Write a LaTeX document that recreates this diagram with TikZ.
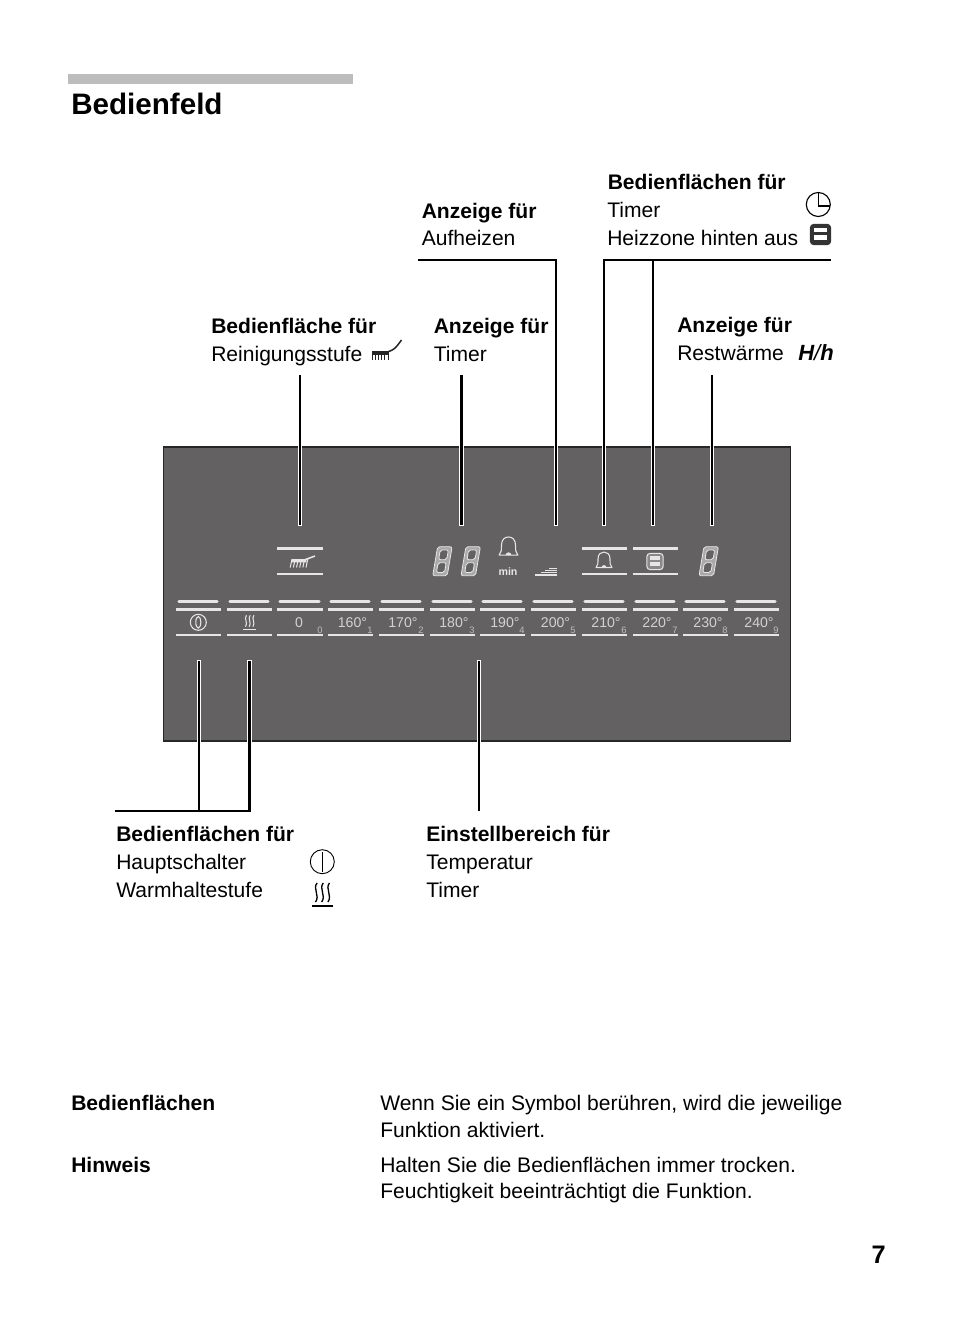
\documentclass[tikz,border=0pt]{standalone}
\usepackage{fontspec}
\setmainfont{Liberation Sans}
\definecolor{panelgray}{HTML}{636161}
\definecolor{markgray}{HTML}{E6E6E6}
\definecolor{barsilver}{HTML}{BDBDBD}
\tikzset{
  halo/.style       = {white,line width=3.4pt,shorten <=-0.75pt,shorten >=-0.75pt},
  headtext/.style   = {anchor=base west,inner sep=0pt,font=\fontsize{15.8}{15.8}\selectfont\bfseries},
  bodytext/.style   = {anchor=base west,inner sep=0pt,font=\fontsize{15.8}{15.8}\selectfont},
  keylabel/.style   = {inner sep=0pt,font=\fontsize{10.6}{10.6}\selectfont,markgray!85!panelgray},
  keyindex/.style   = {inner sep=0pt,font=\fontsize{7}{7}\selectfont,markgray!70!panelgray},
  keyrule/.style    = {markgray,line width=1.6pt},
  keybar/.style     = {markgray,line width=2.4pt,line cap=round}
}
\newcommand{\keyrules}[2]{%
  \draw[keybar] (#1+3,601.5) -- (#2-4,601.5);
  \draw[keyrule] (#1,609.5) -- (#2,609.5);
  \draw[keyrule] (#1,635) -- (#2,635);
}
\newcommand{\segdigit}[2]{%
  \begin{scope}[shift={(#1,#2)},xslant=0.17]
    \filldraw[even odd rule,draw=markgray,fill=markgray!55!panelgray,line width=0.6pt,line join=round,rounded corners=1.5pt]
      (0,0) rectangle (14.5,-29)
      (3.2,-3.2) rectangle (11.3,-13)
      (3.2,-16) rectangle (11.3,-25.8);
  \end{scope}
}
\newcommand{\bellsym}[3]{%
  \begin{scope}[shift={(#1,#2)},scale=#3,markgray,line join=round]
    \draw[line width=0.8pt] (-8,6.5) .. controls (-6,4.5) and (-6,2) .. (-6,-2)
      .. controls (-6,-7) and (-3,-9) .. (0,-9)
      .. controls (3,-9) and (6,-7) .. (6,-2)
      .. controls (6,2) and (6,4.5) .. (8,6.5) -- cycle;
    \fill (-2.4,6.5) arc[start angle=180,end angle=360,radius=2.4];
  \end{scope}
}
\newcommand{\ovensym}[6]{%
  \begin{scope}[shift={(#1,#2)},scale=#3]
    \filldraw[draw=#4,fill=#5,line width=0.8pt,rounded corners=2.5pt] (-9.6,-9.6) rectangle (9.6,9.6);
    \fill[#6] (-6,-6) rectangle (6,-2.2);
    \fill[#6] (-6,0.6) rectangle (6,5.6);
  \end{scope}
}
\newcommand{\heatsym}[5]{%
  \begin{scope}[shift={(#1,#2)},scale=#3]
    \foreach \dx in {-6.2,0,6.2}
      \draw[#4,line width=#5] (\dx+0.8,-9.5) .. controls (\dx-4,-4) and (\dx+4,3) .. (\dx-0.8,9.5);
    \draw[#4,line width=#5] (-10.5,13.5) -- (10.5,13.5);
  \end{scope}
}
\newcommand{\brushsym}[8]{%
  \begin{scope}[shift={(#1,#2)},#8]
    \fill (0,0) -- (#3,0) -- (#3-0.4*#7,0.4*#4) -- (0.2*#7,0.4*#4) -- cycle;
    \foreach \u in {0,0.2,0.4,0.6,0.8,1}
      \draw[line width=0.75pt] (\u*#3-\u*#7,0) -- (\u*#3-\u*#7+#7,#4);
    \draw[line width=1.15pt] (#3-0.5,0.5) .. controls (#3+0.5*#5,0.2*#6) .. (#3+#5,#6);
  \end{scope}
}
\begin{document}
\begin{tikzpicture}[x=0.75pt,y=-0.75pt]
  \useasboundingbox (0,0) rectangle (954,1326);
  \fill[barsilver] (68,74) rectangle (353,84);
  \node[anchor=base west,inner sep=0pt,font=\fontsize{22.2}{22.2}\selectfont\bfseries] (title) at (71,114.5) {Bedienfeld};

  \node[headtext] (heatA) at (421.5,219) {Anzeige für};
  \node[bodytext] (heatB) at (421.5,246) {Aufheizen};
  \node[headtext] (keyA) at (607.5,190) {Bedienflächen für};
  \node[bodytext] (keyB) at (607,218) {Timer};
  \node[bodytext] (keyC) at (607,246) {Heizzone hinten aus};
  \draw[black,line width=0.85pt] (818.3,204.5) circle (12);
  \draw[black,line width=0.85pt] (818.3,193) -- (818.3,206) -- (830,206);
  \ovensym{820.5}{234.5}{1.05}{black!80}{black!80}{white}

  \node[headtext] (cleanA) at (211,334) {Bedienfläche für};
  \node[bodytext] (cleanB) at (211,362) {Reinigungsstufe};
  \brushsym{372}{351.5}{16}{8.5}{13.5}{-11.5}{0}{black!85}
  \node[headtext] (timerA) at (433.5,334) {Anzeige für};
  \node[bodytext] (timerB) at (433.5,362) {Timer};
  \node[headtext] (restA) at (677,333) {Anzeige für};
  \node[bodytext] (restB) at (677,361) {Restwärme};
  \node[anchor=base west,inner sep=0pt,font=\fontsize{16.5}{16.5}\selectfont\itshape] (restC) at (798,361) {\textbf{H}/\textbf{h}};

  \draw[panelgray!40!black,fill=panelgray,line width=0.8pt] (163.5,447) rectangle (790.5,741);

  \foreach \name/\px/\ytop/\lw in {clean/300/375/1.5pt,timer/461.5/375/2.2pt,heat/556/260/1.5pt,bell/604/260/1.5pt,oven/653/260/1.5pt,rest/712/375/1.5pt}{
    \coordinate (\name Top) at (\px,\ytop);
    \coordinate (\name Mid) at (\px,446.5);
    \coordinate (\name End) at (\px,525);
    \draw[halo] (\name Mid) -- (\name End);
    \draw[black,line width=\lw] (\name Top) -- (\name End);
  }
  \foreach \name/\px/\lw in {main/199/1.5pt,warm/249.3/2.2pt,range/479/1.5pt}{
    \coordinate (\name Top) at (\px,661);
    \coordinate (\name Mid) at (\px,741.5);
    \coordinate (\name End) at (\px,811);
    \draw[halo] (\name Top) -- (\name Mid);
    \draw[black,line width=\lw] (\name Top) -- (\name End);
  }
  \coordinate (heatLeft) at (418,260);
  \coordinate (heatCorner) at (557,260);
  \coordinate (keyLeft) at (603,260);
  \coordinate (keyRight) at (831,260);
  \coordinate (mainLeft) at (114.5,810.5);
  \coordinate (warmCorner) at (250.7,810.5);
  \draw[black,line width=1.5pt] (heatLeft) -- (heatCorner);
  \draw[black,line width=1.5pt] (keyLeft) -- (keyRight);
  \draw[black,line width=1.5pt] (mainLeft) -- (warmCorner);

  \draw[keyrule] (277,548.5) -- (323,548.5);
  \draw[keyrule] (277,574) -- (323,574);
  \brushsym{292}{559}{14}{8.5}{9}{-3}{-1.8}{markgray}
  \segdigit{432.7}{575.7}
  \segdigit{461}{575.7}
  \bellsym{508.5}{547.5}{1.17}
  \node[inner sep=0pt,font=\fontsize{8}{8}\selectfont\bfseries,markgray] (minText) at (508,571.5) {min};
  \foreach \dy/\xa in {0/535,-2.3/541,-4.6/545,-6.9/549}
    \draw[markgray,line width=0.8pt] (\xa,575+\dy) -- (557,575+\dy);
  \draw[keyrule] (582,548.5) -- (627,548.5);
  \draw[keyrule] (582,574) -- (627,574);
  \bellsym{604}{561}{1}
  \draw[keyrule] (633,548.5) -- (678,548.5);
  \draw[keyrule] (633,574) -- (678,574);
  \ovensym{655}{561.5}{0.85}{markgray}{panelgray!75!white}{markgray}
  \segdigit{699}{575.7}

  \foreach \xa/\xb/\cx/\lbl/\idx in {
      277/323/299/0/0,328/373/352.5/160°/1,379/424/403/170°/2,430/475/454/180°/3,
      480/525/505/190°/4,531/576/555.5/200°/5,582/627/606/210°/6,633/678/657/220°/7,
      683/728/708/230°/8,734/779/759/240°/9}{
    \keyrules{\xa}{\xb}
    \node[keylabel] (key\idx) at (\cx,622.5) {\lbl};
    \node[keyindex] (idx\idx) at (\xb-3,630.5) {\idx};
  }
  \keyrules{176}{221}
  \keyrules{227}{272}
  \draw[markgray,line width=0.8pt] (198.3,622.3) circle (8);
  \draw[markgray,line width=0.8pt] (198.3,622.3) ellipse (2.5 and 5.8);
  \heatsym{249.7}{621}{0.6}{markgray}{0.8pt}

  \node[headtext] (mainA) at (116,841) {Bedienflächen für};
  \node[bodytext] (mainB) at (116,869) {Hauptschalter};
  \node[bodytext] (mainC) at (116,897) {Warmhaltestufe};
  \draw[black,line width=0.7pt] (322.3,861.7) circle (12);
  \draw[black,line width=0.9pt] (322.3,852) -- (322.3,871.5);
  \heatsym{322.5}{892.5}{1}{black}{1pt}
  \node[headtext] (rangeA) at (426,841) {Einstellbereich für};
  \node[bodytext] (rangeB) at (426,869) {Temperatur};
  \node[bodytext] (rangeC) at (426,897) {Timer};

  \node[headtext] (noteA) at (71,1110) {Bedienflächen};
  \node[bodytext] (noteB) at (380,1110) {Wenn Sie ein Symbol berühren, wird die jeweilige};
  \node[bodytext] (noteC) at (380,1137) {Funktion aktiviert.};
  \node[headtext] (hintA) at (71,1172) {Hinweis};
  \node[bodytext] (hintB) at (380,1172) {Halten Sie die Bedienflächen immer trocken.};
  \node[bodytext] (hintC) at (380,1198) {Feuchtigkeit beeinträchtigt die Funktion.};
  \node[anchor=base east,inner sep=0pt,font=\fontsize{19}{19}\selectfont\bfseries] (pageNo) at (886,1263) {7};
\end{tikzpicture}
\end{document}
